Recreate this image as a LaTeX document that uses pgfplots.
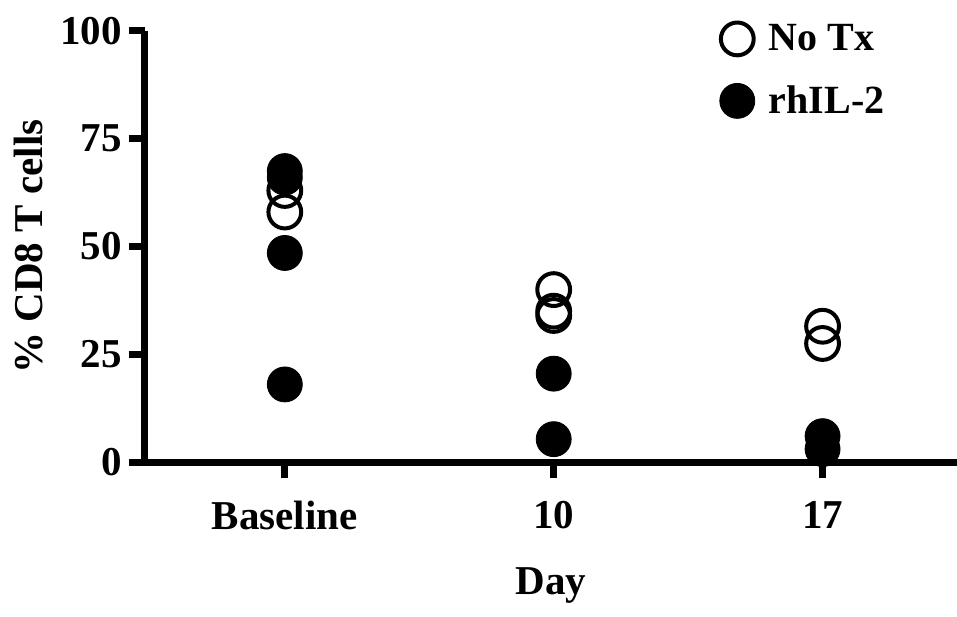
\documentclass[border=0pt]{standalone}
\usepackage{pgfplots}
\pgfplotsset{compat=1.18}
\usepackage{fontspec}
\setmainfont{Liberation Serif}
\begin{document}
\begin{tikzpicture}
\begin{axis}[
 scale only axis, width=406pt, height=215.5pt,
 xmin=-0.52, xmax=2.5, ymin=0, ymax=100,
 axis lines=left, axis line style={line width=3.5pt, -},
 every tick/.style={line width=3.5pt, black},
 tick align=outside, major tick length=8pt,
 xtick={0,1,2}, xticklabels={Baseline,10,17},
 ytick={0,25,50,75,100},
 tick label style={font=\fontsize{20.5}{24}\selectfont\bfseries},
 xticklabel style={yshift=-8pt},
 /pgf/number format/assume math mode=true,
 xlabel={Day}, ylabel={\% CD8 T cells},
 label style={font=\fontsize{20.5}{24}\selectfont\bfseries},
 x label style={yshift=-12pt},
 y label style={yshift=2pt},
 clip=false,
 legend style={at={(0.70,1.035)}, anchor=north west, draw=none, fill=none,
   font=\fontsize{20}{24}\selectfont\bfseries, row sep=12pt,
   nodes={inner xsep=7pt}},
 legend cell align=left,
 legend image code/.code={\draw[#1] plot coordinates {(0.25cm,0cm)};},
]
\addplot[only marks, mark=o, mark size=8.2pt, line width=2pt, black]
 coordinates {(0,63) (0,58) (1,40) (1,35) (1,34) (2,31.5) (2,27.5)};
\addlegendentry{No Tx}
\addplot[only marks, mark=*, mark size=8.75pt, black, fill=black]
 coordinates {(0,67.5) (0,66) (0,48.5) (0,18) (1,20.5) (1,5.3) (2,6) (2,3)};
\addlegendentry{rhIL-2}
\coordinate (O) at (rel axis cs:0,0);
\end{axis}
\pgfresetboundingbox
\path ([shift={(-72.5pt,-77pt)}]O) rectangle ([shift={(406pt,231pt)}]O);
\end{tikzpicture}
\end{document}
